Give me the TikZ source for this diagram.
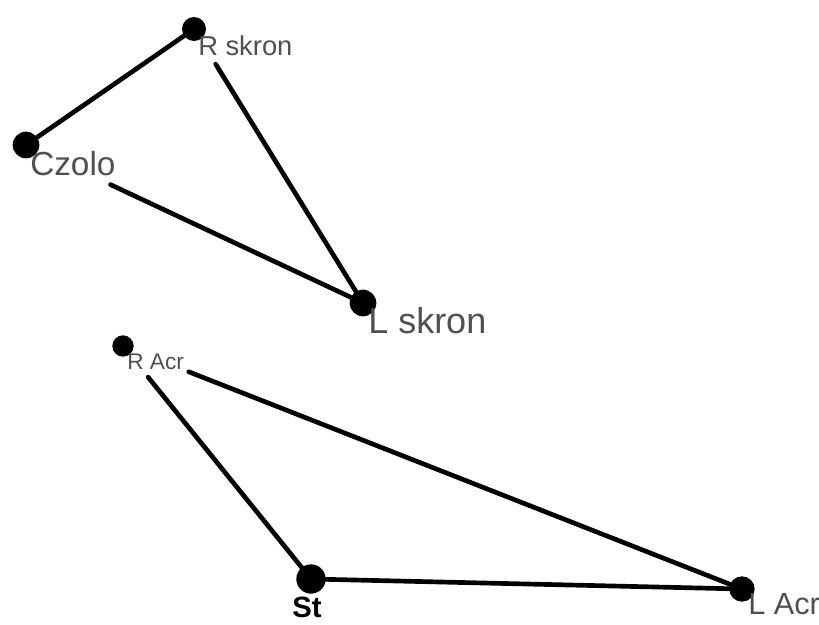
\documentclass[tikz,border=0pt]{standalone}
\usepackage{fontspec}
\setmainfont{Liberation Sans}
\definecolor{labelgray}{RGB}{80, 80, 80}

\begin{document}
\begin{tikzpicture}[
    x=0.75pt, y=-0.75pt,
    dot/.style={circle, fill=black, inner sep=0pt},
    lbl/.style={anchor=base west, inner sep=0pt, text=labelgray},
    link/.style={line width=3.5pt, line cap=round}
  ]
    \useasboundingbox (0,0) rectangle (819,625);
    % head points
    \node[dot, minimum size=18pt] (rskron) at (194,29) {};
    \node[dot, minimum size=20pt] (czolo) at (26,145) {};
    \node[dot, minimum size=20pt] (lskron) at (363,303) {};
    \node[lbl, font=\fontsize{20.5}{20.5}\selectfont] (rskronlbl) at (198,55) {R skron};
    \node[lbl, font=\fontsize{25}{25}\selectfont] (czololbl) at (30,175) {Czolo};
    \node[lbl, font=\fontsize{27}{27}\selectfont] (lskronlbl) at (368,333) {L skron};
    \draw[link] (czolo) -- (rskron);
    \draw[link, shorten <=31pt] (rskron.center) -- (lskron.center);
    \draw[link, shorten <=70pt] (czolo.center) -- (lskron.center);
    % shoulder points
    \node[dot, minimum size=16pt] (racr) at (123,346) {};
    \node[dot, minimum size=22pt] (st) at (311,579) {};
    \node[dot, minimum size=19pt] (lacr) at (742,589) {};
    \node[lbl, font=\fontsize{17}{17}\selectfont] (racrlbl) at (127,369) {R Acr};
    \node[lbl, font=\bfseries\fontsize{22}{22}\selectfont, text=black] (stlbl) at (292,617) {St};
    \node[lbl, font=\fontsize{23}{23}\selectfont] (lacrlbl) at (748,614) {L Acr};
    \draw[link, shorten <=30pt] (racr.center) -- (st.center);
    \draw[link, shorten <=53pt] (racr.center) -- (lacr.center);
    \draw[link] (st) -- (lacr);
  \end{tikzpicture}
\end{document}
